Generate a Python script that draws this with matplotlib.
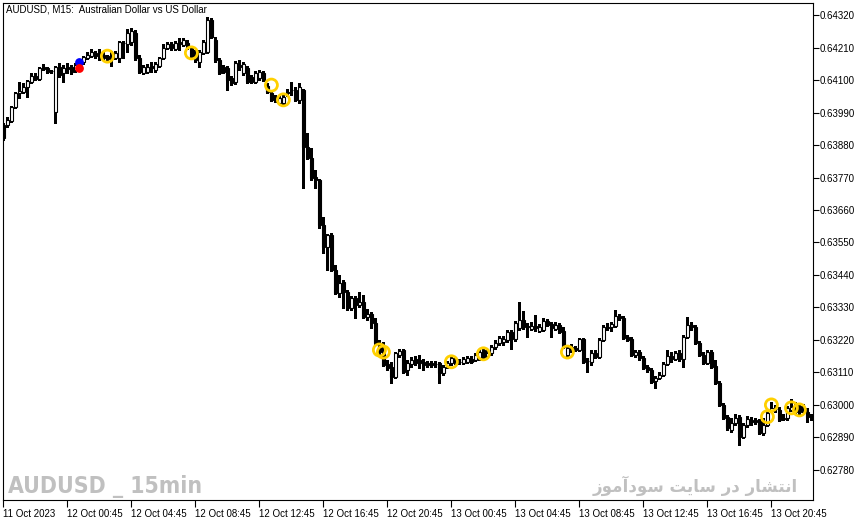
import numpy as np
import matplotlib.pyplot as plt

# chart text
title = "AUDUSD, M15:  Australian Dollar vs US Dollar"
mark_left = "AUDUSD _ 15min"
# "انتشار در سایت سودآموز" written in shaped presentation forms (matplotlib has no RTL shaping)
mark_right = "\uFEAF\uFEEE\uFEE3\uFE81\uFEA9\uFEEE\uFEB3 \uFE96\uFEF3\uFE8E\uFEB3 \uFEAD\uFEA9 \uFEAD\uFE8E\uFEB8\uFE98\uFEE7\uFE8D"

x_tick_bars = [0, 16, 32, 48, 64, 80, 96, 112, 128, 144, 160, 176, 192]
x_tick_labels = ["11 Oct 2023", "12 Oct 00:45", "12 Oct 04:45", "12 Oct 08:45",
                 "12 Oct 12:45", "12 Oct 16:45", "12 Oct 20:45", "13 Oct 00:45",
                 "13 Oct 04:45", "13 Oct 08:45", "13 Oct 12:45", "13 Oct 16:45",
                 "13 Oct 20:45"]
y_ticks = [0.62780, 0.62890, 0.63000, 0.63110, 0.63220, 0.63330, 0.63440, 0.63550,
           0.63660, 0.63770, 0.63880, 0.63990, 0.64100, 0.64210, 0.64320]

# M15 candles, prices in points (1e-5)
opens = np.array([
    63948, 63948, 63961, 64009, 64056, 64060, 64076, 64093, 64114, 64104,
    64144, 64141, 64132, 63992, 64144, 64124, 64144, 64144, 64134, 64148,
    64161, 64175, 64181, 64192, 64181, 64185, 64181, 64185, 64175, 64175,
    64226, 64222, 64229, 64259, 64175, 64124, 64127, 64148, 64134, 64148,
    64175, 64209, 64222, 64205, 64229, 64219, 64225, 64209, 64195, 64161,
    64192, 64195, 64303, 64236, 64168, 64144, 64141, 64107, 64093, 64151,
    64124, 64141, 64110, 64093, 64107, 64124, 64080, 64056, 64043, 64022,
    64022, 64060, 64067, 64066, 64033, 64066, 63873, 63836, 63772, 63762,
    63609, 63535, 63576, 63457, 63379, 63416, 63383, 63328, 63362, 63339,
    63349, 63298, 63308, 63278, 63210, 63176, 63139, 63129, 63095, 63169,
    63186, 63119, 63139, 63156, 63152, 63146, 63142, 63142, 63139, 63142,
    63108, 63132, 63142, 63156, 63146, 63142, 63146, 63156, 63152, 63159,
    63186, 63166, 63176, 63196, 63210, 63213, 63220, 63247, 63223, 63261,
    63288, 63267, 63257, 63268, 63251, 63254, 63284, 63274, 63257, 63271,
    63251, 63169, 63196, 63193, 63186, 63223, 63149, 63146, 63176, 63163,
    63220, 63264, 63264, 63268, 63301, 63295, 63230, 63223, 63169, 63179,
    63159, 63129, 63119, 63081, 63091, 63102, 63139, 63166, 63156, 63176,
    63156, 63230, 63271, 63264, 63210, 63169, 63142, 63179, 63132, 63075,
    63000, 62960, 62915, 62939, 62960, 62892, 62932, 62949, 62949, 62946,
    62905, 62932, 62980, 62987, 62983, 62956, 62956, 62983, 63000, 62997,
    62987, 62976, 62963]) / 1e5

closes = np.array([
    63904, 63965, 64009, 64056, 64063, 64076, 64097, 64114, 64104, 64141,
    64137, 64127, 64130, 64144, 64117, 64141, 64137, 64127, 64151, 64161,
    64178, 64185, 64195, 64181, 64185, 64175, 64171, 64178, 64192, 64229,
    64224, 64259, 64266, 64175, 64127, 64144, 64144, 64141, 64154, 64175,
    64209, 64222, 64209, 64225, 64222, 64236, 64212, 64175, 64168, 64195,
    64229, 64303, 64246, 64168, 64124, 64127, 64100, 64090, 64158, 64144,
    64154, 64093, 64093, 64124, 64127, 64100, 64060, 64033, 64033, 64039,
    64043, 64056, 64065, 64033, 64076, 63873, 63836, 63768, 63762, 63609,
    63535, 63576, 63457, 63379, 63413, 63383, 63328, 63362, 63339, 63349,
    63298, 63308, 63278, 63210, 63179, 63136, 63125, 63095, 63176, 63183,
    63112, 63142, 63152, 63142, 63142, 63136, 63136, 63136, 63138, 63108,
    63129, 63142, 63159, 63142, 63145, 63156, 63159, 63146, 63169, 63179,
    63163, 63176, 63196, 63210, 63227, 63223, 63247, 63223, 63278, 63288,
    63264, 63263, 63268, 63261, 63264, 63284, 63271, 63261, 63271, 63247,
    63196, 63193, 63186, 63186, 63223, 63146, 63148, 63176, 63163, 63220,
    63264, 63261, 63274, 63301, 63295, 63227, 63220, 63169, 63179, 63159,
    63125, 63119, 63078, 63091, 63102, 63139, 63166, 63156, 63176, 63156,
    63230, 63271, 63264, 63210, 63169, 63142, 63179, 63129, 63075, 63000,
    62956, 62922, 62939, 62956, 62892, 62932, 62953, 62942, 62942, 62905,
    62932, 62973, 62990, 62986, 62949, 62953, 62990, 62993, 62976, 62976,
    62983, 62960, 62962]) / 1e5

highs = np.array([
    63955, 63975, 64012, 64060, 64093, 64090, 64100, 64124, 64124, 64144,
    64154, 64144, 64134, 64148, 64158, 64151, 64158, 64151, 64158, 64168,
    64181, 64195, 64205, 64198, 64205, 64195, 64185, 64198, 64198, 64232,
    64232, 64273, 64276, 64269, 64185, 64151, 64154, 64161, 64161, 64178,
    64222, 64229, 64229, 64232, 64242, 64242, 64236, 64215, 64202, 64202,
    64236, 64313, 64310, 64246, 64175, 64151, 64148, 64114, 64165, 64168,
    64161, 64148, 64117, 64131, 64134, 64131, 64090, 64066, 64049, 64046,
    64049, 64070, 64093, 64076, 64090, 64070, 63921, 63870, 63796, 63765,
    63636, 63579, 63582, 63474, 63440, 63423, 63389, 63369, 63369, 63383,
    63372, 63325, 63315, 63295, 63220, 63213, 63152, 63146, 63179, 63190,
    63190, 63152, 63163, 63166, 63169, 63156, 63149, 63149, 63149, 63146,
    63136, 63149, 63166, 63163, 63156, 63163, 63166, 63166, 63176, 63186,
    63193, 63186, 63203, 63220, 63234, 63234, 63254, 63254, 63284, 63349,
    63318, 63278, 63281, 63305, 63274, 63295, 63291, 63281, 63281, 63278,
    63264, 63200, 63207, 63200, 63227, 63227, 63159, 63186, 63186, 63227,
    63271, 63278, 63281, 63322, 63308, 63301, 63237, 63230, 63186, 63186,
    63166, 63136, 63125, 63098, 63112, 63146, 63186, 63179, 63183, 63186,
    63237, 63298, 63281, 63271, 63217, 63179, 63186, 63186, 63152, 63081,
    63007, 62966, 62956, 62970, 62966, 62939, 62963, 62960, 62956, 62953,
    62956, 62980, 63010, 63000, 62993, 62970, 62997, 63020, 63010, 63003,
    63003, 62990, 62970]) / 1e5

lows = np.array([
    63897, 63941, 63958, 64005, 64039, 64056, 64043, 64090, 64100, 64100,
    64134, 64124, 64124, 63955, 64110, 64093, 64124, 64121, 64127, 64144,
    64154, 64171, 64178, 64175, 64168, 64168, 64161, 64148, 64171, 64161,
    64175, 64195, 64219, 64168, 64124, 64121, 64124, 64127, 64127, 64144,
    64171, 64205, 64202, 64202, 64202, 64215, 64205, 64171, 64161, 64144,
    64188, 64192, 64242, 64161, 64121, 64124, 64066, 64083, 64087, 64134,
    64117, 64090, 64090, 64090, 64100, 64097, 64056, 64029, 64026, 64019,
    64019, 64046, 64049, 64029, 64022, 63735, 63833, 63762, 63735, 63599,
    63515, 63457, 63454, 63376, 63366, 63328, 63322, 63322, 63295, 63332,
    63295, 63288, 63261, 63207, 63173, 63132, 63119, 63075, 63091, 63163,
    63108, 63102, 63129, 63136, 63125, 63119, 63129, 63129, 63129, 63075,
    63102, 63125, 63136, 63139, 63139, 63139, 63142, 63142, 63149, 63152,
    63156, 63163, 63169, 63190, 63203, 63203, 63213, 63190, 63217, 63254,
    63257, 63230, 63254, 63251, 63247, 63251, 63268, 63230, 63254, 63244,
    63193, 63166, 63179, 63183, 63183, 63142, 63112, 63136, 63159, 63159,
    63217, 63254, 63251, 63264, 63288, 63223, 63217, 63166, 63163, 63152,
    63122, 63112, 63075, 63058, 63088, 63098, 63136, 63146, 63152, 63149,
    63129, 63227, 63254, 63207, 63166, 63139, 63139, 63125, 63071, 62997,
    62953, 62915, 62909, 62932, 62865, 62888, 62926, 62932, 62936, 62902,
    62898, 62929, 62976, 62976, 62946, 62949, 62949, 62980, 62973, 62970,
    62976, 62942, 62949]) / 1e5

# signal markers
circle_bars = [26, 47, 67, 70, 94, 95, 112, 120, 141, 191, 192, 197, 199]
circle_prices = np.array([64181, 64192, 64083, 64033, 63186, 63179, 63146,
                          63173, 63179, 62960, 63000, 62990, 62983]) / 1e5
blue_dot = (19, 0.64161)
red_dot = (19, 0.64141)

bars = np.arange(len(closes))

fig = plt.figure(figsize=(8.66, 5.22), dpi=100)
ax = fig.add_axes([3 / 866, 22 / 522, 810 / 866, 497 / 522])

# wicks
ax.vlines(bars, lows, highs, color="black", linewidth=0.9, zorder=2, antialiased=False)

# bodies
up = closes >= opens
body = np.abs(closes - opens)
body = np.maximum(body, 0.000004)
bottom = np.minimum(opens, closes)
ax.bar(bars[up], body[up], bottom=bottom[up], width=0.6, color="white",
       edgecolor="black", linewidth=0.8, zorder=3)
ax.bar(bars[~up], body[~up], bottom=bottom[~up], width=0.6, color="black",
       edgecolor="black", linewidth=0.8, zorder=3)

ax.scatter(circle_bars, circle_prices, s=75, facecolors="none",
           edgecolors="#FFD000", linewidths=2.0, zorder=5)
ax.scatter([blue_dot[0]], [blue_dot[1]], s=28, color="#0000FF", zorder=6)
ax.scatter([red_dot[0]], [red_dot[1]], s=28, color="#FF0000", zorder=6)

ax.set_xlim(-0.1, 202.4)
ax.set_ylim(0.62678, 0.64361)

ax.set_xticks(x_tick_bars)
ax.set_xticklabels(x_tick_labels, fontsize=7, family="Liberation Sans")
for lbl in ax.get_xticklabels():
    lbl.set_horizontalalignment("left")
ax.set_yticks(y_ticks)
ax.set_yticklabels(["%.5f" % v for v in y_ticks], fontsize=7, family="Liberation Sans")
ax.yaxis.tick_right()
ax.tick_params(axis="y", length=4, width=0.8, pad=1)
ax.tick_params(axis="x", length=5, width=0.8, pad=1.5)

for sp in ax.spines.values():
    sp.set_linewidth(0.8)
    sp.set_color("black")

fig.text(6 / 866, 1 - 9 / 522, title, fontsize=7, family="Liberation Sans",
         ha="left", va="center")
fig.text(8 / 866, 29 / 522, mark_left, fontsize=16.5, family="DejaVu Sans",
         fontstretch="condensed", weight="bold", color="#C0C0C0",
         ha="left", va="baseline")
fig.text(798 / 866, 30 / 522, mark_right, fontsize=12, family="DejaVu Sans",
         weight="bold", color="#C0C0C0", ha="right", va="baseline")

fig.savefig("out.png", dpi=100, facecolor="white")
